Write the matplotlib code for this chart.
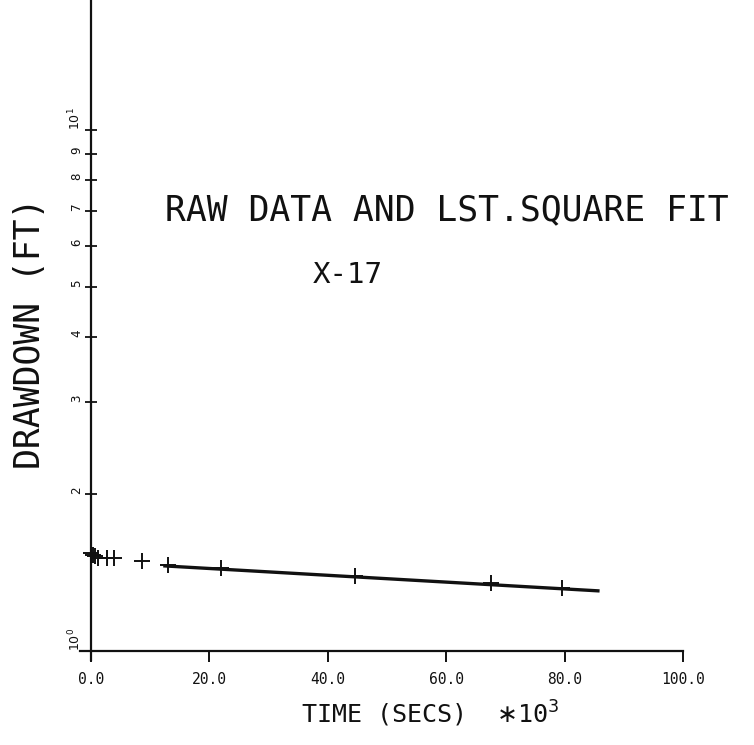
"""
Drawdown vs time for well X-17: raw readings (+) and the least-square fit line,
semilog axes in the style of an old pen-plotter output.
"""

import numpy as np
import matplotlib
matplotlib.use("Agg")
import matplotlib.pyplot as plt
from matplotlib.ticker import FixedLocator, FixedFormatter

# ------------------------------------------------------------------
# raw data (time in 1e3 s, drawdown in ft)
TIME_RAW = [0.0, 0.3, 0.6, 1.2, 2.7, 3.9, 8.6, 13.0, 22.0, 44.6, 67.5, 79.5]
DRAW_RAW = [1.54, 1.53, 1.52, 1.51, 1.51, 1.51, 1.49, 1.46, 1.44, 1.39, 1.35, 1.32]

# least-square fit line end points
TIME_FIT = [12.2, 85.9]
DRAW_FIT = [1.457, 1.304]

XTICKS = [0, 20, 40, 60, 80, 100]
XTICK_LABELS = ["0.0", "20.0", "40.0", "60.0", "80.0", "100.0"]
YMAJOR = [1, 10]
YMAJOR_LABELS = [r"$10^0$", r"$10^1$"]
YMINOR = [2, 3, 4, 5, 6, 7, 8, 9]
YMINOR_LABELS = ["2", "3", "4", "5", "6", "7", "8", "9"]

FONT = ["DejaVu Sans Mono", "DejaVu Sans"]
INK = "#111111"
# ------------------------------------------------------------------

plt.rcParams["font.family"] = FONT
plt.rcParams["mathtext.fontset"] = "dejavusans"

fig = plt.figure(figsize=(7.54, 7.45), dpi=100)
ax = fig.add_axes([0.1058, 0.1141, 0.8001, 0.8859])

ax.set_yscale("log")
ax.set_xlim(-1.9, 100)
ax.set_ylim(0.961, 10 ** 1.2495)

for s in ("top", "right"):
    ax.spines[s].set_visible(False)
ax.spines["left"].set_position(("data", 0))
ax.spines["bottom"].set_position(("data", 1))
for s in ("left", "bottom"):
    ax.spines[s].set_linewidth(1.6)
    ax.spines[s].set_color(INK)

# fit line and raw points
ax.plot(TIME_FIT, DRAW_FIT, color=INK, lw=2.4, solid_capstyle="butt")
ax.plot(TIME_RAW, DRAW_RAW, ls="none", marker="+", ms=11, mew=1.4, color=INK)

# x ticks
ax.set_xticks(XTICKS)
ax.set_xticklabels(XTICK_LABELS, fontsize=10.5)
ax.tick_params(axis="x", direction="out", length=8, width=1.4, pad=7, colors=INK)

# y ticks, labels rotated as on the plotter
ax.yaxis.set_major_locator(FixedLocator(YMAJOR))
ax.yaxis.set_major_formatter(FixedFormatter(YMAJOR_LABELS))
ax.yaxis.set_minor_locator(FixedLocator(YMINOR))
ax.yaxis.set_minor_formatter(FixedFormatter(YMINOR_LABELS))
ax.tick_params(axis="y", which="both", direction="inout", length=9, width=1.3,
               pad=1, colors=INK, labelsize=9)
for lab in ax.get_yticklabels(which="both"):
    lab.set_rotation(90)
    lab.set_va("bottom")

ax.set_xlabel(r"TIME (SECS)  $\ast$10$^3$", fontsize=18, color=INK, va="center")
ax.xaxis.set_label_coords(0.5806, -0.0818)
ax.set_ylabel("DRAWDOWN (FT)", fontsize=25, color=INK, va="center")
ax.yaxis.set_label_coords(-0.0825, 0.495)

fig.text(165 / 754, 1 - 210 / 745, "RAW DATA AND LST.SQUARE FIT",
         fontsize=25, color=INK, ha="left", va="center")
fig.text(313 / 754, 1 - 275 / 745, "X-17",
         fontsize=21, color=INK, ha="left", va="center")

fig.savefig("out.png", dpi=100)
